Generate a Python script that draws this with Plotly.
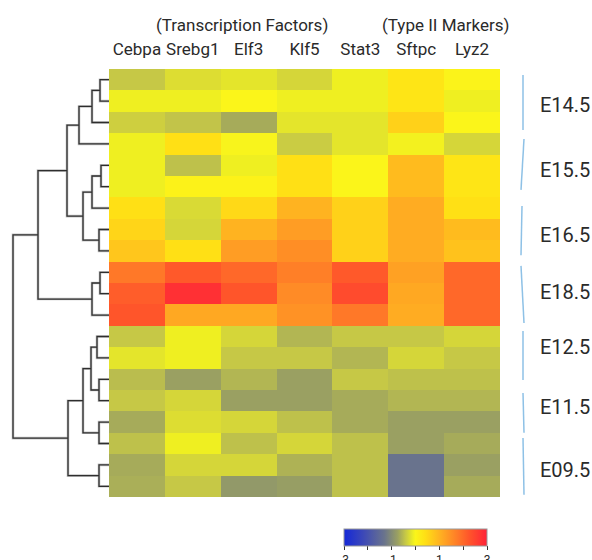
import plotly.graph_objects as go

# ---------------- data ----------------
genes = ["Cebpa", "Srebg1", "Elf3", "Klf5", "Stat3", "Sftpc", "Lyz2"]
gene_groups = ["(Transcription Factors)", "(Type II Markers)"]
stages = ["E14.5", "E15.5", "E16.5", "E18.5", "E12.5", "E11.5", "E09.5"]

row_01 = [-0.42, -0.24, -0.18, -0.30, -0.09, 0.30, 0.03]
row_02 = [-0.09, -0.09, 0.00, -0.09, -0.09, 0.30, -0.09]
row_03 = [-0.36, -0.45, -0.66, -0.18, -0.18, 0.60, 0.00]
row_04 = [-0.09, 0.40, -0.02, -0.39, -0.18, -0.06, -0.30]
row_05 = [-0.09, -0.48, -0.09, 0.40, 0.00, 0.90, 0.30]
row_06 = [-0.09, 0.05, 0.05, 0.40, 0.00, 0.90, 0.30]
row_07 = [0.40, -0.27, 0.50, 1.00, 0.60, 1.10, 0.40]
row_08 = [0.55, -0.30, 1.00, 1.30, 0.60, 1.10, 0.90]
row_09 = [0.75, 0.40, 1.30, 1.50, 0.60, 1.10, 0.80]
row_10 = [1.80, 2.20, 2.00, 1.70, 2.20, 1.25, 2.00]
row_11 = [2.15, 2.80, 2.25, 1.55, 2.40, 1.15, 2.00]
row_12 = [2.25, 1.15, 1.15, 1.45, 1.80, 1.10, 2.00]
row_13 = [-0.42, -0.09, -0.30, -0.57, -0.42, -0.42, -0.30]
row_14 = [-0.18, -0.09, -0.42, -0.42, -0.57, -0.30, -0.42]
row_15 = [-0.51, -0.75, -0.57, -0.75, -0.42, -0.48, -0.48]
row_16 = [-0.42, -0.30, -0.75, -0.75, -0.66, -0.57, -0.57]
row_17 = [-0.66, -0.24, -0.30, -0.48, -0.66, -0.75, -0.75]
row_18 = [-0.48, -0.09, -0.48, -0.30, -0.48, -0.75, -0.66]
row_19 = [-0.66, -0.30, -0.30, -0.60, -0.48, -1.32, -0.75]
row_20 = [-0.63, -0.42, -0.84, -0.78, -0.48, -1.32, -0.66]

# hierarchical clustering merges: (child_a, child_b, height); leaves 0..19, new nodes 20..
merge_a = [0, 20, 21, 4, 23, 7, 24, 22, 9, 28, 27, 12, 14, 31, 16, 33, 18, 35, 30]
merge_b = [1, 2, 3, 5, 6, 8, 25, 26, 10, 11, 29, 13, 15, 32, 17, 34, 19, 36, 37]
merge_h = [9, 17, 30, 8, 17, 10, 26, 42, 9, 17, 71, 12, 10, 18, 10, 26, 10, 41, 96]

colorbar_ticks = [-3, -2, -1, 0, 1, 2, 3]
colorbar_ticktext = ["-3", "", "-1", "", "1", "", "3"]

# ---------------- layout constants (page pixels) ----------------
W, H = 592, 560


def px(x):
    return x / W


def py(y):
    return 1 - y / H


HM_L, HM_R, HM_T, HM_B = 109, 500, 69, 497
# group label brackets in row units (top, bottom, line x top px, line x bottom px), label centre
GROUP_SPANS = [(-0.22, 2.35, 523, 523), (2.77, 5.15, 524, 521), (5.9, 8.2, 522, 521),
               (8.7, 11.37, 521, 524), (11.74, 14.03, 523, 523), (14.64, 16.5, 523, 524),
               (16.74, 19.4, 523, 524)]
GROUP_LABEL_Y = [1.18, 4.22, 7.26, 9.92, 12.5, 15.3, 18.24]

FONT = "Roboto"
TEXT = "#2a2a2a"

z = [row_01, row_02, row_03, row_04, row_05, row_06, row_07, row_08, row_09, row_10,
     row_11, row_12, row_13, row_14, row_15, row_16, row_17, row_18, row_19, row_20]
n_rows = len(z)

zmin, zmax = -3, 3
anchors = [(-3, "#1428d8"), (-2.2, "#3c48b8"), (-1.3, "#6a748c"), (-0.75, "#9aa062"),
           (-0.42, "#c6c846"), (-0.1, "#eeee22"), (0, "#fbf51a"), (0.4, "#ffe015"),
           (1.1, "#ffac22"), (1.8, "#ff7828"), (2.25, "#ff552a"), (3, "#ff2238")]
colorscale = [[(v - zmin) / (zmax - zmin), c] for v, c in anchors]

fig = go.Figure()

fig.add_trace(go.Heatmap(
    z=z, x=genes, y=list(range(n_rows)),
    zmin=zmin, zmax=zmax, colorscale=colorscale,
    xaxis="x", yaxis="y",
    colorbar=dict(
        orientation="h", x=px((344 + 487) / 2), xanchor="center",
        y=py(529), yanchor="top", len=143 / W, lenmode="fraction",
        thickness=17, xpad=0, ypad=0, outlinewidth=1, outlinecolor="#999999",
        tickvals=colorbar_ticks, ticktext=colorbar_ticktext,
        ticks="outside", ticklen=4, tickcolor="#333333",
        tickfont=dict(family=FONT, size=12, color=TEXT),
    ),
    hoverinfo="skip",
))

# ---------------- dendrogram ----------------
pos = {i: float(i) for i in range(n_rows)}
hgt = {i: 0.0 for i in range(n_rows)}
dx, dy = [], []
for k, (a, b, h) in enumerate(zip(merge_a, merge_b, merge_h)):
    node = n_rows + k
    dx += [hgt[a], h, h, hgt[b], None]
    dy += [pos[a], pos[a], pos[b], pos[b], None]
    pos[node] = (pos[a] + pos[b]) / 2
    hgt[node] = h

fig.add_trace(go.Scatter(x=dx, y=dy, mode="lines", xaxis="x2", yaxis="y",
                         line=dict(color="#c4c4c4", width=2.6), hoverinfo="skip",
                         showlegend=False))
fig.add_trace(go.Scatter(x=dx, y=dy, mode="lines", xaxis="x2", yaxis="y",
                         line=dict(color="#2e2e2e", width=1.3), hoverinfo="skip",
                         showlegend=False))

# ---------------- group brackets & labels ----------------
shapes, annotations = [], []
for (y0, y1, xt, xb), lbl, yc in zip(GROUP_SPANS, stages, GROUP_LABEL_Y):
    shapes.append(dict(type="line", xref="paper", yref="y", x0=px(xt), x1=px(xb),
                       y0=y0, y1=y1, line=dict(color="#8ec1e6", width=1.5)))
    annotations.append(dict(text=lbl, xref="paper", yref="y", x=px(538), y=yc,
                            xanchor="left", yanchor="middle", showarrow=False,
                            font=dict(family=FONT, size=20, color=TEXT)))

for txt, cx in zip(gene_groups, [242, 445]):
    annotations.append(dict(text=txt, xref="paper", yref="paper", x=px(cx), y=py(25),
                            xanchor="center", yanchor="middle", showarrow=False,
                            font=dict(family=FONT, size=17, color=TEXT)))

fig.update_layout(
    width=W, height=H, margin=dict(l=0, r=0, t=0, b=0, autoexpand=False),
    paper_bgcolor="white", plot_bgcolor="white", showlegend=False,
    xaxis=dict(domain=[px(HM_L), px(HM_R)], side="top", showgrid=False, zeroline=False,
               ticks="", ticklabelstandoff=10, automargin=False,
               tickfont=dict(family=FONT, size=17, color=TEXT),
               range=[-0.5, len(genes) - 0.5]),
    xaxis2=dict(domain=[0, px(HM_L)], range=[HM_L, 0], anchor="y", showgrid=False,
                zeroline=False, showticklabels=False, ticks="", visible=False),
    yaxis=dict(domain=[py(HM_B), py(HM_T)], range=[n_rows - 0.5, -0.5],
               showgrid=False, zeroline=False, showticklabels=False, ticks="",
               automargin=False),
    shapes=shapes, annotations=annotations,
)

fig.write_html(
    "out.html",
    config={"displayModeBar": False},
    post_script="document.body.style.margin='0';document.body.style.overflow='hidden';",
)
